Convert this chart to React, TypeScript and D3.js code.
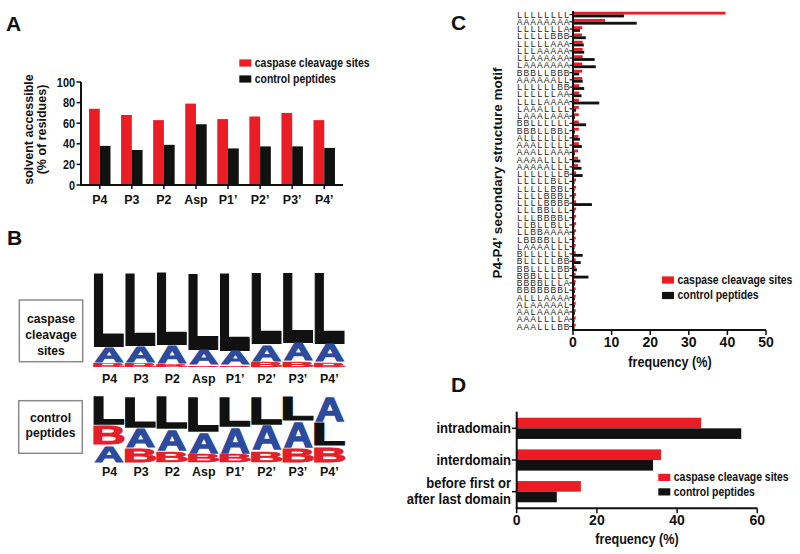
import React from 'react';
import * as d3 from 'd3';

const RED = '#ec1c24';
const BLACK = '#111111';
const BLUE = '#2d4b9e';
const FONT = "'Liberation Sans', Arial, Helvetica, sans-serif";

// ---------- Panel A data ----------
const positions = ['P4', 'P3', 'P2', 'Asp', 'P1’', 'P2’', 'P3’', 'P4’'];
const accessibleCaspase = [74, 68, 63, 79, 64, 66.5, 70, 63];
const accessibleControl = [38, 34, 39, 59, 35.5, 37.5, 37.5, 36];
const accessTicks = [0, 20, 40, 60, 80, 100];

// ---------- Panel B data (letter frequencies, %) ----------
const caspaseL = [78, 77, 76.5, 81, 82, 75, 74, 75];
const caspaseA = [16.5, 17.5, 19, 16, 15, 18.5, 19, 19];
const caspaseB = [5.5, 5.5, 4.5, 3, 3, 6.5, 7, 6];
const caspaseOrder = ['LAB', 'LAB', 'LAB', 'LAB', 'LAB', 'LAB', 'LAB', 'LAB'];
const controlL = [43.7, 47.8, 49.7, 53.7, 46.3, 42.8, 37.3, 36.3];
const controlA = [26.4, 29.4, 32.4, 32.4, 39.8, 38.3, 39.9, 38.8];
const controlB = [29.9, 22.8, 17.9, 13.9, 13.9, 18.9, 22.8, 24.9];
const controlOrder = ['LBA', 'LAB', 'LAB', 'LAB', 'LAB', 'LAB', 'LAB', 'ALB'];

// ---------- Panel C data ----------
const motifs = [
  'LLLLLLLL', 'AAAAAAAA', 'LLLLLLLA', 'LLLLLBBB', 'LLLLLAAA', 'LLLAAAAA', 'LLAAAAAA', 'LAAAAAAA',
  'BBBLLBBB', 'AAAAAALL', 'LLLLLLBB', 'LLLLLLAA', 'LLLLAAAA', 'LAAALLLL', 'LAAALAAA', 'BBLLLLLL',
  'BBBLLBBL', 'ALLLLLLL', 'AAALLLLL', 'AAALLAAA', 'AAAALLLL', 'AAAAALLL', 'LLLLLLLB', 'LLLLLBLL',
  'LLLLLBBL', 'LLLLBBBL', 'LLLLBBBB', 'LLLBBLLL', 'LLLBBBBL', 'LLBLLBLL', 'LLBBAAAA', 'LBBBBLLL',
  'LAAAALLL', 'BLLLLLLL', 'BLLLLLBB', 'BBLLLLBB', 'BBBLLLLL', 'BBBBLLLA', 'BBBBBBBL', 'ALLLAAAA',
  'ALAAAAAL', 'AALAAAAA', 'AAALLLLA', 'AAALLLBB',
];
const motifCaspase = [
  39.5, 8.3, 2.4, 2.3, 2.5, 2.5, 2.5, 2.4, 2.4, 2.4, 1.6, 1.6, 1.5, 1.5, 1.5, 1.5,
  1.5, 1.4, 1.5, 1.3, 1.3, 1.3, 0.8, 0.8, 0.8, 0.8, 0.8, 0.8, 0.8, 0.8, 0.8, 0.7,
  0.7, 0.7, 0.7, 0.7, 0.7, 0.7, 0.7, 0.7, 0.7, 0.7, 0.7, 0.7,
];
const motifControl = [
  13.2, 16.5, 1.8, 3.3, 2.8, 2.9, 5.6, 5.9, 1.6, 2.5, 2.9, 2.2, 6.8, 0.8, 0.5, 3.4,
  0.5, 1.8, 2.3, 0.5, 1.9, 2.2, 2.5, 0.4, 0.4, 0.4, 4.9, 0.4, 0.4, 0.4, 0.4, 0.4,
  0.4, 2.5, 2.0, 1.0, 4.0, 0.5, 0.5, 0.5, 0.5, 0.5, 0.4, 0.4,
];
const freqTicksC = [0, 10, 20, 30, 40, 50];

// ---------- Panel D data ----------
const domainCats = ['intradomain', 'interdomain', 'before'];
const domainLabels = [['intradomain'], ['interdomain'], ['before first or', 'after last domain']];
const domainCaspase = [46, 36, 16];
const domainControl = [56, 34, 10];
const freqTicksD = [0, 20, 40, 60];

const legendItems = [
  { label: 'caspase cleavage sites', color: RED },
  { label: 'control peptides', color: BLACK },
];

type TP = {
  x: number; y: number; size: number; anchor?: string; weight?: string | number;
  sx?: number; rotate?: number; fill?: string; children: React.ReactNode;
};
const T = ({ x, y, size, anchor = 'start', weight = 'bold', sx = 1, rotate = 0, fill = BLACK, children }: TP) => (
  <text
    transform={`translate(${x},${y}) rotate(${rotate}) scale(${sx},1)`}
    fontSize={size}
    textAnchor={anchor as any}
    fontWeight={weight as any}
    fill={fill}
    fontFamily={FONT}
  >
    {children}
  </text>
);

const Legend = ({ x, y, gap }: { x: number; y: number; gap: number }) => (
  <g>
    {legendItems.map((it, i) => (
      <g key={it.label}>
        <rect x={x} y={y + i * gap - 7.2} width={12} height={7.2} fill={it.color} />
        <T x={x + 15.5} y={y + i * gap} size={12} sx={0.87}>{it.label}</T>
      </g>
    ))}
  </g>
);

// glyph ink metrics (em units) for Liberation Sans Bold
const GLYPH: Record<string, { l: number; r: number; color: string }> = {
  L: { l: 0.073, r: 0.585, color: BLACK },
  A: { l: 0.0, r: 0.722, color: BLUE },
  B: { l: 0.073, r: 0.672, color: '#e3202a' },
};
const CAP = 0.716;
const THICK = 1.6;

const Logo = ({ top, height, L, A, B, order }: { top: number; height: number; L: number[]; A: number[]; B: number[]; order: string[] }) => {
  const xb = d3.scaleBand<string>().domain(positions).range([94, 345]).paddingInner(0.04);
  const hs = d3.scaleLinear().domain([0, 100]).range([0, height]);
  const vals: Record<string, number[]> = { L, A, B };
  const pad = THICK / 2;
  return (
    <g>
      {positions.map((p, i) => {
        let y = top;
        return order[i].split('').map((ch) => {
          const h = hs(vals[ch][i]);
          const g = GLYPH[ch];
          const w = xb.bandwidth() - 2 * pad;
          const hh = Math.max(h - 2 * pad, 0.3);
          const sx = w / ((g.r - g.l) * 100);
          const sy = hh / (CAP * 100);
          const el = (
            <text
              key={p + ch}
              transform={`translate(${(xb(p) as number) + pad - g.l * 100 * sx},${y + h - pad}) scale(${sx},${sy})`}
              fontSize={100}
              fontWeight="bold"
              fontFamily={FONT}
              fill={g.color}
              stroke={g.color}
              strokeWidth={THICK}
              strokeLinejoin="miter"
              vectorEffect="non-scaling-stroke"
              style={{ vectorEffect: 'non-scaling-stroke' } as any}
            >
              {ch}
            </text>
          );
          y += h;
          return el;
        });
      })}
    </g>
  );
};

export default function App() {
  // Panel A scales
  const xA = d3.scaleBand<string>().domain(positions).range([81, 343]).paddingInner(0.33).paddingOuter(0.25);
  const yA = d3.scaleLinear().domain([0, 100]).range([185, 82]);
  const bwA = xA.bandwidth() / 2;

  // Panel C scales
  const yC = d3.scaleBand<string>().domain(motifs).range([11, 330]).paddingInner(0.22).paddingOuter(0.1);
  const xC = d3.scaleLinear().domain([0, 50]).range([573, 766]);
  const bhC = yC.bandwidth() / 2;

  // Panel D scales
  const yD = d3.scaleBand<string>().domain(domainCats).range([411.7, 508.3]).paddingInner(0.33).paddingOuter(0.19);
  const xD = d3.scaleLinear().domain([0, 60]).range([516.7, 757.3]);
  const bhD = yD.bandwidth() / 2;

  const xLogo = d3.scaleBand<string>().domain(positions).range([94, 345]);

  return (
    <svg
      width={800}
      height={554}
      style={{ position: 'absolute', left: 0, top: 0, background: '#fff' }}
      fontFamily={FONT}
    >
      <rect width={800} height={554} fill="#fff" />
      {/* Panel letters */}
      <T x={6} y={31} size={21}>A</T>
      <T x={7} y={245} size={21}>B</T>
      <T x={451} y={30} size={21}>C</T>
      <T x={451} y={392} size={21}>D</T>

      {/* ===== Panel A ===== */}
      <g>
        {positions.map((p, i) => (
          <g key={p}>
            <rect x={xA(p)} y={yA(accessibleCaspase[i])} width={bwA} height={yA(0) - yA(accessibleCaspase[i])} fill={RED} />
            <rect x={(xA(p) as number) + bwA} y={yA(accessibleControl[i])} width={bwA} height={yA(0) - yA(accessibleControl[i])} fill={BLACK} />
            <line x1={(xA(p) as number) + bwA} x2={(xA(p) as number) + bwA} y1={185} y2={189} stroke={BLACK} strokeWidth={1.5} />
            <T x={(xA(p) as number) + bwA} y={204} size={13.5} anchor="middle" sx={0.92}>{p}</T>
          </g>
        ))}
        <line x1={81} x2={81} y1={yA(100)} y2={yA(0)} stroke={BLACK} strokeWidth={2} />
        <line x1={80} x2={343} y1={yA(0)} y2={yA(0)} stroke={BLACK} strokeWidth={2} />
        {accessTicks.map((t) => (
          <g key={t}>
            <line x1={76.5} x2={81} y1={yA(t)} y2={yA(t)} stroke={BLACK} strokeWidth={1.5} />
            <T x={75} y={yA(t) + 4.5} size={12.5} anchor="end" sx={0.87}>{t}</T>
          </g>
        ))}
        <T x={32.5} y={129.5} size={12.5} anchor="middle" rotate={-90}>solvent accessible</T>
        <T x={45.5} y={129.5} size={12.5} anchor="middle" rotate={-90}>(% of residues)</T>
        <Legend x={239.3} y={66.6} gap={16} />
      </g>

      {/* ===== Panel B ===== */}
      <g>
        <rect x={19.3} y={300} width={63.4} height={61.7} fill="none" stroke="#8a8a8a" strokeWidth={1.5} />
        <T x={51} y={322.5} size={13.5} anchor="middle" sx={0.9}>caspase</T>
        <T x={51} y={339} size={13.5} anchor="middle" sx={0.9}>cleavage</T>
        <T x={51} y={355} size={13.5} anchor="middle" sx={0.9}>sites</T>
        <rect x={18.7} y={400.7} width={63.6} height={52.6} fill="none" stroke="#8a8a8a" strokeWidth={1.5} />
        <T x={50.5} y={421.7} size={13.5} anchor="middle" sx={0.9}>control</T>
        <T x={50.5} y={437} size={13.5} anchor="middle" sx={0.9}>peptides</T>

        <Logo top={271} height={97} L={caspaseL} A={caspaseA} B={caspaseB} order={caspaseOrder} />
        <Logo top={395.7} height={67} L={controlL} A={controlA} B={controlB} order={controlOrder} />
        {positions.map((p) => (
          <g key={p}>
            <T x={(xLogo(p) as number) + xLogo.bandwidth() / 2} y={382.7} size={13.5} anchor="middle" sx={0.92}>{p}</T>
            <T x={(xLogo(p) as number) + xLogo.bandwidth() / 2} y={475.7} size={13.5} anchor="middle" sx={0.92}>{p}</T>
          </g>
        ))}
      </g>

      {/* ===== Panel C ===== */}
      <g>
        {motifs.map((m, i) => {
          const y0 = yC(m) as number;
          const cy = y0 + yC.bandwidth() / 2;
          const xs = m.split('').map((_, k) => 519.7 + k * 6.72).join(' ');
          return (
            <g key={m}>
              <rect x={xC(0)} y={y0} width={xC(motifCaspase[i]) - xC(0)} height={bhC} fill={RED} />
              <rect x={xC(0)} y={y0 + bhC} width={xC(motifControl[i]) - xC(0)} height={bhC} fill={BLACK} />
              <line x1={569.5} x2={573} y1={cy} y2={cy} stroke={BLACK} strokeWidth={1.2} />
              <text x={xs} y={cy + 3.1} fontSize={8.6} textAnchor="middle" fill="#222" fontFamily={FONT}>
                {m}
              </text>
            </g>
          );
        })}
        <line x1={573} x2={573} y1={11} y2={330} stroke={BLACK} strokeWidth={2} />
        <line x1={572} x2={766} y1={330} y2={330} stroke={BLACK} strokeWidth={2} />
        {freqTicksC.map((t) => (
          <g key={t}>
            <line x1={xC(t)} x2={xC(t)} y1={330} y2={335} stroke={BLACK} strokeWidth={1.5} />
            <T x={xC(t)} y={346.7} size={14} anchor="middle">{t}</T>
          </g>
        ))}
        <T x={670} y={367} size={14.5} anchor="middle" sx={0.87}>frequency (%)</T>
        <T x={501.5} y={173} size={13.5} anchor="middle" rotate={-90}>P4-P4’ secondary structure motif</T>
        <Legend x={662} y={283.6} gap={15.5} />
      </g>

      {/* ===== Panel D ===== */}
      <g>
        {domainCats.map((c, i) => {
          const y0 = yD(c) as number;
          const cy = y0 + yD.bandwidth() / 2;
          const lines = domainLabels[i];
          return (
            <g key={c}>
              <rect x={xD(0)} y={y0} width={xD(domainCaspase[i]) - xD(0)} height={bhD} fill={RED} />
              <rect x={xD(0)} y={y0 + bhD} width={xD(domainControl[i]) - xD(0)} height={bhD} fill={BLACK} />
              <line x1={512} x2={516.7} y1={cy} y2={cy} stroke={BLACK} strokeWidth={1.5} />
              {lines.map((ln, k) => (
                <T key={ln} x={511} y={cy + 4.5 + (k - (lines.length - 1) / 2) * 16} size={15} anchor="end" sx={0.87}>
                  {ln}
                </T>
              ))}
            </g>
          );
        })}
        <line x1={516.7} x2={516.7} y1={411.7} y2={508.3} stroke={BLACK} strokeWidth={2} />
        <line x1={515.7} x2={757.3} y1={508.3} y2={508.3} stroke={BLACK} strokeWidth={2} />
        {freqTicksD.map((t) => (
          <g key={t}>
            <line x1={xD(t)} x2={xD(t)} y1={508.3} y2={513.3} stroke={BLACK} strokeWidth={1.5} />
            <T x={xD(t)} y={524.5} size={14} anchor="middle">{t}</T>
          </g>
        ))}
        <T x={637} y={543.5} size={14.5} anchor="middle" sx={0.87}>frequency (%)</T>
        <Legend x={658.3} y={481} gap={14.5} />
      </g>
    </svg>
  );
}
